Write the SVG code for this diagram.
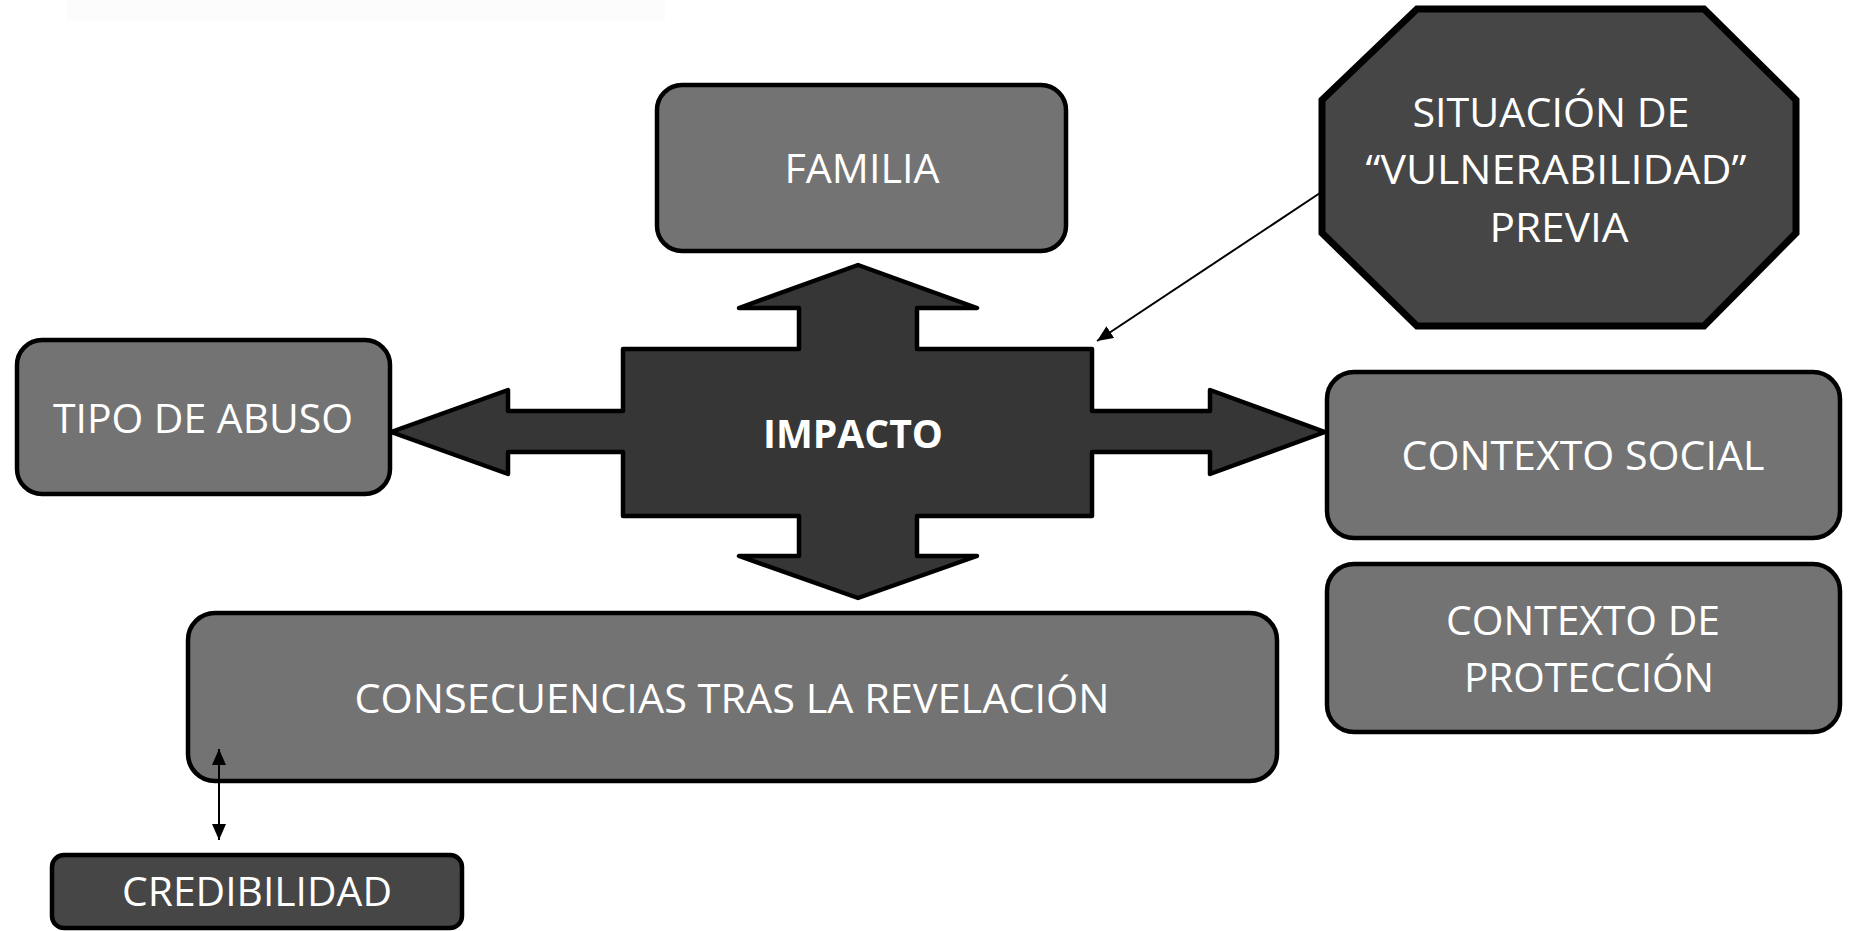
<svg xmlns="http://www.w3.org/2000/svg" width="1851" height="931" viewBox="0 0 1851 931">
<style>
.box{fill:#737373;stroke:#000;stroke-width:4.5}
.dark{fill:#464646;stroke:#000;stroke-width:4.5}
.t{font-family:"Open Sans","Liberation Sans",sans-serif;font-size:40px;fill:#fff;text-anchor:middle}
.b{font-weight:bold}
.conn{stroke:#000;stroke-width:2;fill:none}
</style>
<defs>
<marker id="ah" markerUnits="userSpaceOnUse" markerWidth="18" markerHeight="14" refX="16" refY="7" orient="auto-start-reverse">
<path d="M0,0 L16,7 L0,14 z" fill="#000"/>
</marker>
</defs>
<rect x="67" y="0" width="598" height="21" fill="#fcfcfc"/>
<g id="familia">
<rect class="box" x="657" y="85" width="409" height="166" rx="25"/>
<text class="t" x="862" y="183" textLength="155" lengthAdjust="spacingAndGlyphs">FAMILIA</text>
</g>
<g id="tipo">
<rect class="box" x="17" y="340" width="373" height="154" rx="25"/>
<text class="t" x="203" y="433" textLength="300" lengthAdjust="spacingAndGlyphs">TIPO DE ABUSO</text>
</g>
<g id="impacto">
<polygon points="858,265 977,308 917,308 917,349 1092,349 1092,411 1210,411 1210,390 1325,432 1210,474 1210,452 1092,452 1092,516 917,516 917,556 977,556 858,598 739,556 799,556 799,516 623,516 623,452 508,452 508,474 391,432 508,390 508,411 623,411 623,349 799,349 799,308 739,308" fill="#363636" stroke="#000" stroke-width="4.5" stroke-linejoin="round"/>
<text class="t b" x="853" y="448" textLength="180" lengthAdjust="spacingAndGlyphs">IMPACTO</text>
</g>
<g id="situacion">
<polygon points="1417,9 1704,9 1796,100 1796,233 1704,326 1417,326 1322,233 1322,100" fill="#464646" stroke="#000" stroke-width="7"/>
<text class="t" x="1551" y="127" textLength="277" lengthAdjust="spacingAndGlyphs">SITUACIÓN DE</text>
<text class="t" x="1556" y="184" textLength="381" lengthAdjust="spacingAndGlyphs">“VULNERABILIDAD”</text>
<text class="t" x="1559" y="242" textLength="139" lengthAdjust="spacingAndGlyphs">PREVIA</text>
</g>
<g id="contexto-social">
<rect class="box" x="1327" y="372" width="513" height="166" rx="27"/>
<text class="t" x="1583" y="470" textLength="363" lengthAdjust="spacingAndGlyphs">CONTEXTO SOCIAL</text>
</g>
<g id="contexto-proteccion">
<rect class="box" x="1327" y="564" width="513" height="168" rx="27"/>
<text class="t" x="1583" y="635" textLength="274" lengthAdjust="spacingAndGlyphs">CONTEXTO DE</text>
<text class="t" x="1589" y="692" textLength="250" lengthAdjust="spacingAndGlyphs">PROTECCIÓN</text>
</g>
<g id="consecuencias">
<rect class="box" x="188" y="613" width="1089" height="168" rx="27"/>
<text class="t" x="732" y="713" textLength="755" lengthAdjust="spacingAndGlyphs">CONSECUENCIAS TRAS LA REVELACIÓN</text>
</g>
<g id="credibilidad">
<rect class="dark" x="52" y="855" width="410" height="73" rx="12"/>
<text class="t" x="257" y="906" textLength="270" lengthAdjust="spacingAndGlyphs">CREDIBILIDAD</text>
</g>
<g id="connectors">
<line class="conn" x1="1320" y1="193" x2="1097" y2="341" marker-end="url(#ah)"/>
<line class="conn" x1="219" y1="749" x2="219" y2="840" marker-start="url(#ah)" marker-end="url(#ah)"/>
</g>
</svg>
